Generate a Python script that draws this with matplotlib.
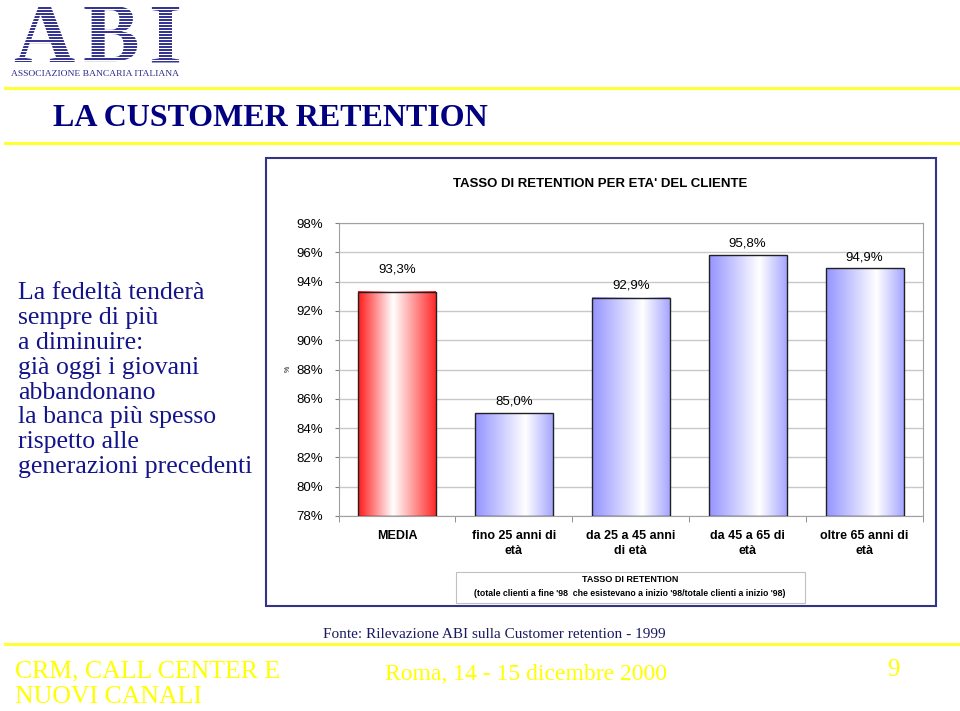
import numpy as np
import matplotlib
matplotlib.use("Agg")
import matplotlib.pyplot as plt
from matplotlib.patches import Rectangle
from matplotlib.colors import LinearSegmentedColormap

# data
categories = ["MEDIA", "fino 25 anni di\netà", "da 25 a 45 anni\ndi età",
              "da 45 a 65 di\netà", "oltre 65 anni di\netà"]
values = [93.3, 85.0, 92.9, 95.8, 94.9]
value_labels = ["93,3%", "85,0%", "92,9%", "95,8%", "94,9%"]
yticks = [78, 80, 82, 84, 86, 88, 90, 92, 94, 96, 98]
label_gap = [22, 12, 12, 12, 11]   # px above bar top
base = 78

W, H = 960, 711
fig = plt.figure(figsize=(W / 100, H / 100), dpi=100)
fig.patch.set_facecolor("white")

def fx(px):
    return px / W

def fy(py):
    return 1 - py / H

serif = ["Liberation Serif", "DejaVu Serif"]
sans = ["Liberation Sans", "DejaVu Sans"]
navy = "#000080"
yellow = "#ffff00"

# page decoration: yellow rules
for yy in (88, 143, 644):
    fig.add_artist(plt.Line2D([fx(5), fx(960)], [fy(yy), fy(yy)], color="#ffff33", lw=2.2))

# logo
lax = fig.add_axes([fx(5), fy(66), fx(185) - fx(5), fy(0) - fy(66)])
lax.set_xlim(5, 185)
lax.set_ylim(66, 0)
lax.axis("off")
for ch, cx in (("A", 44), ("B", 111), ("I", 165)):
    lax.text(cx, 62, ch, fontsize=61, family=serif, weight="bold",
             color="#2b2b8c", ha="center", va="baseline", zorder=1)
lax.hlines(np.arange(5.5, 64, 3.0), 5, 185, color="white", lw=0.8, zorder=3)
fig.text(fx(95), fy(74), "ASSOCIAZIONE BANCARIA ITALIANA", fontsize=6.8,
         family=serif, color="#2b2b8c", ha="center", va="center")

# slide title
fig.text(fx(53), fy(118), "LA CUSTOMER RETENTION", fontsize=23, family=serif,
         weight="bold", color=navy, ha="left", va="center")

# left paragraph
fig.text(fx(18), fy(282),
         "La fedeltà tenderà\nsempre di più\na diminuire:\ngià oggi i giovani\n"
         "abbandonano\nla banca più spesso\nrispetto alle\ngenerazioni precedenti",
         fontsize=18.5, family=serif, color="#14148a", ha="left", va="top",
         linespacing=1.17)

# chart frame
fig.add_artist(Rectangle((fx(266), fy(606)), fx(936) - fx(266), fy(158) - fy(606),
                         fill=False, ec="#333388", lw=1.5))
fig.text(fx(600), fy(184), "TASSO DI RETENTION PER ETA' DEL CLIENTE",
         fontsize=9.5, family=sans, weight="bold", ha="center", va="center")

ax = fig.add_axes([fx(338.5), fy(516), fx(923) - fx(338.5), fy(223) - fy(516)])
x = np.arange(len(values))
heights = [v - base for v in values]
bars = ax.bar(x, heights, bottom=base, width=0.667, facecolor="none",
              edgecolor="#202020", lw=1.0, zorder=3)

red_cmap = LinearSegmentedColormap.from_list(
    "r", [(0, "#ff1a1a"), (0.45, "#ffffff"), (1, "#ff2a2a")])
blue_cmap = LinearSegmentedColormap.from_list(
    "b", [(0, "#9494ff"), (0.65, "#ffffff"), (1, "#a6a6ff")])
grad = np.linspace(0, 1, 256).reshape(1, -1)
for i, b in enumerate(bars):
    x0, w = b.get_x(), b.get_width()
    y0, y1 = b.get_y(), b.get_y() + b.get_height()
    ax.imshow(grad, cmap=red_cmap if i == 0 else blue_cmap,
              extent=[x0, x0 + w, y0, y1], aspect="auto", zorder=2,
              interpolation="bilinear")

ax.set_xlim(-0.5, len(values) - 0.5)
ax.set_ylim(78, 98)
ax.set_yticks(yticks)
ax.set_yticklabels([f"{t}%" for t in yticks], fontsize=9.5, family=sans)
ax.yaxis.grid(True, color="#c8c8c8", lw=1.0, zorder=0)
ax.set_axisbelow(True)
for s in ax.spines.values():
    s.set_color("#a0a0a0")
ax.tick_params(axis="y", length=3, color="#808080", pad=8)

ax.set_xticks(x)
ax.set_xticklabels(categories, fontsize=9, family=sans, weight="bold",
                   linespacing=1.35, va="top")
ax.tick_params(axis="x", which="major", length=0, pad=10)
ax.set_xticks(np.arange(-0.5, len(values), 1.0), minor=True)
ax.tick_params(axis="x", which="minor", length=4, color="#808080")

for i, v in enumerate(values):
    ax.annotate(value_labels[i], (x[i], v), xytext=(0, label_gap[i] * 0.72),
                textcoords="offset points", ha="center", va="center",
                fontsize=9.5, family=sans)

fig.text(fx(288), fy(369), "%", fontsize=5, family=sans, rotation=90,
         ha="center", va="center")

# note box under chart
fig.add_artist(Rectangle((fx(455.5), fy(603)), fx(805) - fx(455.5), fy(572) - fy(603),
                         fill=False, ec="#c0c0c0", lw=0.8))
fig.text(fx(630), fy(580), "TASSO DI RETENTION", fontsize=6.5, family=sans,
         weight="bold", ha="center", va="center")
fig.text(fx(630), fy(594),
         "(totale clienti a fine '98  che esistevano a inizio '98/totale clienti a inizio '98)",
         fontsize=6.3, family=sans, weight="bold", ha="center", va="center")

# source and footer
fig.text(fx(494), fy(634), "Fonte: Rilevazione ABI sulla Customer retention - 1999",
         fontsize=11, family=serif, color="#1a1a60", ha="center", va="center")
fig.text(fx(15), fy(671), "CRM, CALL CENTER E", fontsize=18.5,
         family=serif, color=yellow, ha="left", va="center")
fig.text(fx(15), fy(697), "NUOVI CANALI", fontsize=18.5,
         family=serif, color=yellow, ha="left", va="center")
fig.text(fx(526), fy(674), "Roma, 14 - 15 dicembre 2000", fontsize=17,
         family=serif, color=yellow, ha="center", va="center")
fig.text(fx(893), fy(670), "9", fontsize=18, family=serif, color=yellow,
         ha="center", va="center")

fig.savefig("out.png", dpi=100)
